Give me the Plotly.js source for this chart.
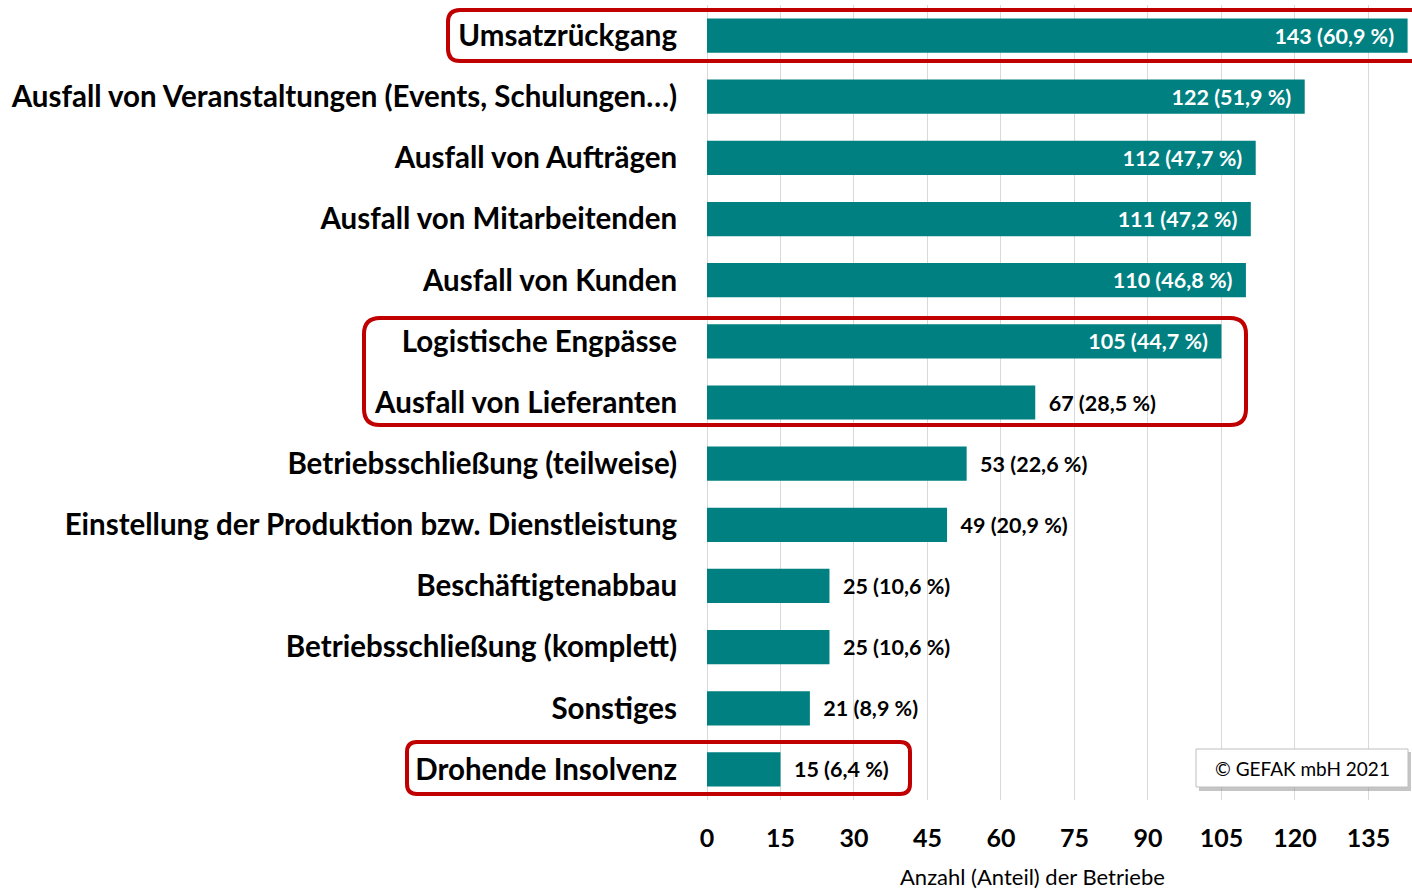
<!DOCTYPE html>
<html>
<head>
<meta charset="utf-8">
<script src="https://cdn.plot.ly/plotly-3.0.1.min.js"></script>
<style>
html,body{margin:0;padding:0;background:#fff;}
#chart{width:1412px;height:890px;}
</style>
</head>
<body>
<div id="chart"></div>
<script>
const categories = [
  "Umsatzrückgang",
  "Ausfall von Veranstaltungen (Events, Schulungen…)",
  "Ausfall von Aufträgen",
  "Ausfall von Mitarbeitenden",
  "Ausfall von Kunden",
  "Logistische Engpässe",
  "Ausfall von Lieferanten",
  "Betriebsschließung (teilweise)",
  "Einstellung der Produktion bzw. Dienstleistung",
  "Beschäftigtenabbau",
  "Betriebsschließung (komplett)",
  "Sonstiges",
  "Drohende Insolvenz"
];
const counts = [143, 122, 112, 111, 110, 105, 67, 53, 49, 25, 25, 21, 15];
const shares = ["60,9", "51,9", "47,7", "47,2", "46,8", "44,7", "28,5", "22,6", "20,9", "10,6", "10,6", "8,9", "6,4"];
const tickVals = [0, 15, 30, 45, 60, 75, 90, 105, 120, 135];

const FONT = "Lato, 'Open Sans', sans-serif";
const insideThreshold = 100;
const NB = "\u00a0";
const labels = counts.map((c, i) => c > insideThreshold
  ? `${c} (${shares[i]} %)${NB}${NB}`
  : `${NB}${NB}${c} (${shares[i]} %)`);
const positions = counts.map(c => c > insideThreshold ? "inside" : "outside");

// plot area in pixels
const L = 707, R = 1412, T = 5, B = 800;
const px = x => (x - L) / (R - L);
const py = y => (B - y) / (B - T);
function roundRect(x0, y0, x1, y1, r) {
  const p = (x, y) => `${px(x)},${py(y)}`;
  return `M${p(x0 + r, y0)} L${p(x1 - r, y0)} Q${p(x1, y0)} ${p(x1, y0 + r)} ` +
         `L${p(x1, y1 - r)} Q${p(x1, y1)} ${p(x1 - r, y1)} L${p(x0 + r, y1)} ` +
         `Q${p(x0, y1)} ${p(x0, y1 - r)} L${p(x0, y0 + r)} Q${p(x0, y0)} ${p(x0 + r, y0)} Z`;
}
const red = "#C00000";
const shapes = [
  {type: "path", xref: "paper", yref: "paper", path: roundRect(448, 10, 1440, 61, 12), line: {color: red, width: 4}},
  {type: "path", xref: "paper", yref: "paper", path: roundRect(364, 318, 1246, 425, 16), line: {color: red, width: 4}},
  {type: "path", xref: "paper", yref: "paper", path: roundRect(407, 742, 910, 794, 10), line: {color: red, width: 4}},
  {type: "rect", xref: "paper", yref: "paper", x0: px(1199), x1: px(1411), y0: py(752), y1: py(791), fillcolor: "rgba(150,150,150,0.55)", line: {width: 0}},
  {type: "rect", xref: "paper", yref: "paper", x0: px(1196), x1: px(1408), y0: py(749), y1: py(787), fillcolor: "#ffffff", line: {color: "#BFBFBF", width: 1}}
];

const trace = {
  type: "bar",
  orientation: "h",
  x: counts,
  y: categories,
  text: labels,
  textposition: positions,
  insidetextanchor: "end",
  insidetextfont: {family: FONT, size: 21.5, color: "#ffffff", weight: "bold"},
  outsidetextfont: {family: FONT, size: 21.5, color: "#000000", weight: "bold"},
  constraintext: "none",
  cliponaxis: false,
  marker: {color: "#008080"},
  width: 0.56,
  hoverinfo: "none"
};

const layout = {
  width: 1412, height: 890,
  margin: {l: L, r: 1412 - R, t: T, b: 890 - B, pad: 0},
  paper_bgcolor: "#ffffff", plot_bgcolor: "#ffffff",
  showlegend: false,
  font: {family: FONT, color: "#000000"},
  xaxis: {
    range: [0, 143.9],
    tickvals: tickVals,
    ticktext: tickVals.map(String),
    showgrid: true, gridcolor: "#D9D9D9", gridwidth: 1,
    zeroline: true, zerolinecolor: "#D9D9D9", zerolinewidth: 1,
    showline: false,
    ticks: "outside", ticklen: 16, tickcolor: "rgba(0,0,0,0)",
    tickfont: {family: FONT, size: 25, weight: "bold", color: "#000"},
    fixedrange: true
  },
  yaxis: {
    autorange: "reversed",
    showgrid: false, zeroline: false, showline: false,
    ticks: "outside", ticklen: 23, tickcolor: "rgba(0,0,0,0)",
    tickfont: {family: FONT, size: 29.5, weight: "bold", color: "#000"},
    fixedrange: true
  },
  shapes: shapes,
  annotations: [
    {xref: "paper", yref: "paper", x: px(1302), y: py(768), text: "© GEFAK mbH 2021", showarrow: false,
     font: {family: FONT, size: 19, color: "#000"}, xanchor: "center", yanchor: "middle"},
    {xref: "paper", yref: "paper", x: px(1032), y: py(876), text: "Anzahl (Anteil) der Betriebe", showarrow: false,
     font: {family: FONT, size: 22, color: "#000"}, xanchor: "center", yanchor: "middle"}
  ]
};

Plotly.newPlot("chart", [trace], layout, {displayModeBar: false, staticPlot: true});
</script>
</body>
</html>
